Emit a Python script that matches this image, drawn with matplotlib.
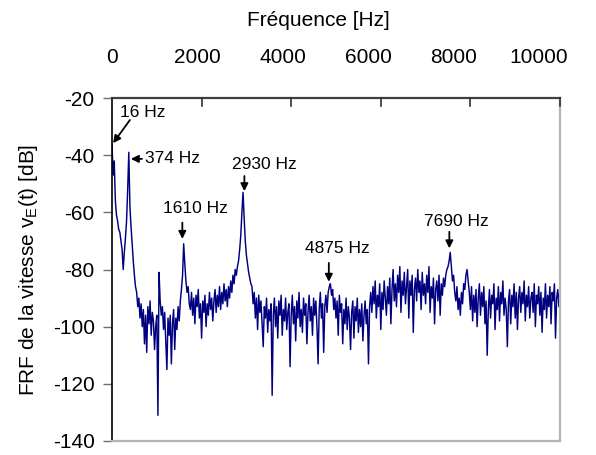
import numpy as np
import matplotlib
matplotlib.use("Agg")
from matplotlib import pyplot as plt

# FRF spectrum, one value every 25 Hz from 0 to 10000 Hz
df = 25.0
frf_db = [
    # 0 - 525 Hz
    -36, -47, -42, -56, -61, -63, -66, -67, -70, -73, -80, -74, -69, -63, -52, -39,
    -58, -65, -71, -77, -82, -86,
    # 550 - 1000 Hz
    -88, -93, -90, -97, -92, -100, -94, -106, -96, -109, -93, -99, -91, -103, -95, -98,
    -108, -100, -96,
    # 1025 - 1725 Hz
    -131, -81, -91, -96, -93, -101, -95, -105, -115, -97, -103, -96, -113, -99, -94, -108,
    -97, -101, -93, -98, -91, -87, -82, -71, -78, -84, -88, -86, -92,
    # 1750 - 2725 Hz
    -94, -88, -96, -90, -99, -89, -93, -87, -97, -92, -104, -91, -95, -89, -100, -92,
    -96, -88, -94, -90, -98, -91, -87, -95, -89, -93, -86, -94, -88, -92, -85, -91,
    -87, -93, -86, -90, -84, -88, -82, -85,
    # 2750 - 3125 Hz
    -80, -82, -79, -77, -73, -68, -60, -53, -62, -70, -75, -78, -81, -83, -85, -86,
    # 3150 - 4825 Hz
    -92, -88, -97, -90, -101, -89, -95, -91, -99, -107, -93, -97, -90, -102, -94, -98,
    -92, -124, -96, -90, -100, -93, -104, -91, -96, -89, -103, -94, -98, -90, -101, -95,
    -92, -114, -96, -89, -99, -93, -105, -91, -97, -88, -100, -94, -102, -90, -96, -92,
    -106, -95, -89, -98, -93, -103, -90, -96, -91, -100, -113, -94, -88, -97, -92, -109,
    -93, -89, -95, -88,
    # 4850 - 5750 Hz
    -86, -85, -89, -87, -94, -90, -97, -91, -103, -89, -95, -92, -106, -94, -99, -90,
    -101, -93, -97, -108, -95, -91, -104, -93, -98, -90, -102, -94, -100, -92, -105, -96,
    -91, -99, -94, -113, -93,
    # 5775 - 7300 Hz
    -88, -95, -86, -92, -84, -97, -89, -93, -85, -101, -88, -94, -84, -90, -96, -86,
    -92, -83, -99, -87, -80, -91, -85, -93, -82, -88, -79, -95, -84, -89, -81, -92,
    -86, -80, -97, -84, -89, -82, -102, -87, -83, -91, -80, -88, -84, -94, -81, -89,
    -85, -92, -82, -88, -79, -95, -86, -90, -83, -99, -87, -84, -91, -82,
    # 7325 - 8050 Hz
    -96, -85, -89, -83, -86, -82, -80, -79, -77, -74, -79, -84, -82, -88, -91, -86,
    -94, -90, -96, -88, -92, -85, -87, -82, -80, -84, -88, -94, -86, -98,
    # 8075 - 10000 Hz
    -89, -95, -87, -100, -90, -85, -96, -88, -93, -86, -99, -91, -110, -94, -87, -97,
    -89, -92, -85, -101, -90, -94, -86, -98, -88, -92, -84, -96, -90, -94, -107, -91,
    -87, -99, -89, -93, -85, -97, -88, -101, -90, -86, -95, -88, -92, -84, -98, -89,
    -93, -86, -97, -90, -88, -95, -85, -100, -89, -92, -86, -96, -88, -102, -90, -94,
    -85, -97, -89, -93, -86, -99, -88, -91, -85, -104, -90, -87, -93, -86,
]
freqs = np.arange(len(frf_db)) * df

x_ticks = [0, 2000, 4000, 6000, 8000, 10000]
y_ticks = [-140, -120, -100, -80, -60, -40, -20]

# annotations: label, text position, alignment, arrow start, arrow tip
peaks = [
    ("16 Hz", (180, -25.1), "left", (400, -27.7), (25, -35.8)),
    ("374 Hz", (740, -41.3), "left", (670, -41.3), (420, -41.3)),
    ("1610 Hz", (1870, -58.5), "center", (1570, -63.6), (1570, -69.3)),
    ("2930 Hz", (3400, -43.4), "center", (2955, -47.3), (2955, -52.6)),
    ("4875 Hz", (5020, -72.6), "center", (4840, -77.7), (4840, -84.3)),
    ("7690 Hz", (7680, -63.2), "center", (7530, -66.8), (7530, -72.6)),
]

plt.rcParams["font.family"] = ["Liberation Sans", "DejaVu Sans"]
plt.rcParams["mathtext.default"] = "regular"
plt.rcParams["axes.unicode_minus"] = False

fig = plt.figure(figsize=(5.96, 4.55), dpi=100)
ax = fig.add_axes([112 / 596, 1 - 441 / 455, 448 / 596, 343 / 455])

ax.plot(freqs, frf_db, color="#000080", lw=1.05)

ax.set_xlim(0, 10000)
ax.set_ylim(-140, -20)
ax.set_yticks(y_ticks)
ax.set_xticks([])
ax.tick_params(axis="y", direction="out", length=6.5, width=1, color="#707070",
               labelsize=15, pad=6)

# tick marks on the top frame, pointing down into the plot
for xt in x_ticks:
    ax.plot([xt, xt], [1, 1 - 8 / 343], transform=ax.get_xaxis_transform(),
            color="#303030", lw=1.2, clip_on=False, zorder=5)

# the top labels in the original sit a little left of the tick marks
sec = ax.secondary_xaxis("top", functions=(lambda x: x * 1.05, lambda v: v / 1.05))
sec.set_xticks(x_ticks)
sec.tick_params(axis="x", length=0, labelsize=15, pad=22)
sec.spines["top"].set_visible(False)

ax.spines["left"].set_color("black")
ax.spines["left"].set_linewidth(1.2)
ax.spines["top"].set_color("#404040")
ax.spines["top"].set_linewidth(1.6)
ax.spines["right"].set_color("#b4b4b4")
ax.spines["right"].set_linewidth(1.6)
ax.spines["bottom"].set_color("#b4b4b4")
ax.spines["bottom"].set_linewidth(1.6)

ax.set_ylabel(r"FRF de la vitesse v$_E$(t) [dB]", fontsize=15, labelpad=9)
fig.text(318 / 596, 1 - 20 / 455, "Fréquence [Hz]", ha="center", va="center",
         fontsize=15)

for label, txt_pos, align, start, tip in peaks:
    ax.text(txt_pos[0], txt_pos[1], label, ha=align, va="center", fontsize=12.5)
    ax.annotate("", xy=tip, xytext=start,
                arrowprops=dict(arrowstyle="-|>", color="black", lw=1.3,
                                mutation_scale=11, shrinkA=0, shrinkB=0))

fig.savefig("out.png", dpi=100)
